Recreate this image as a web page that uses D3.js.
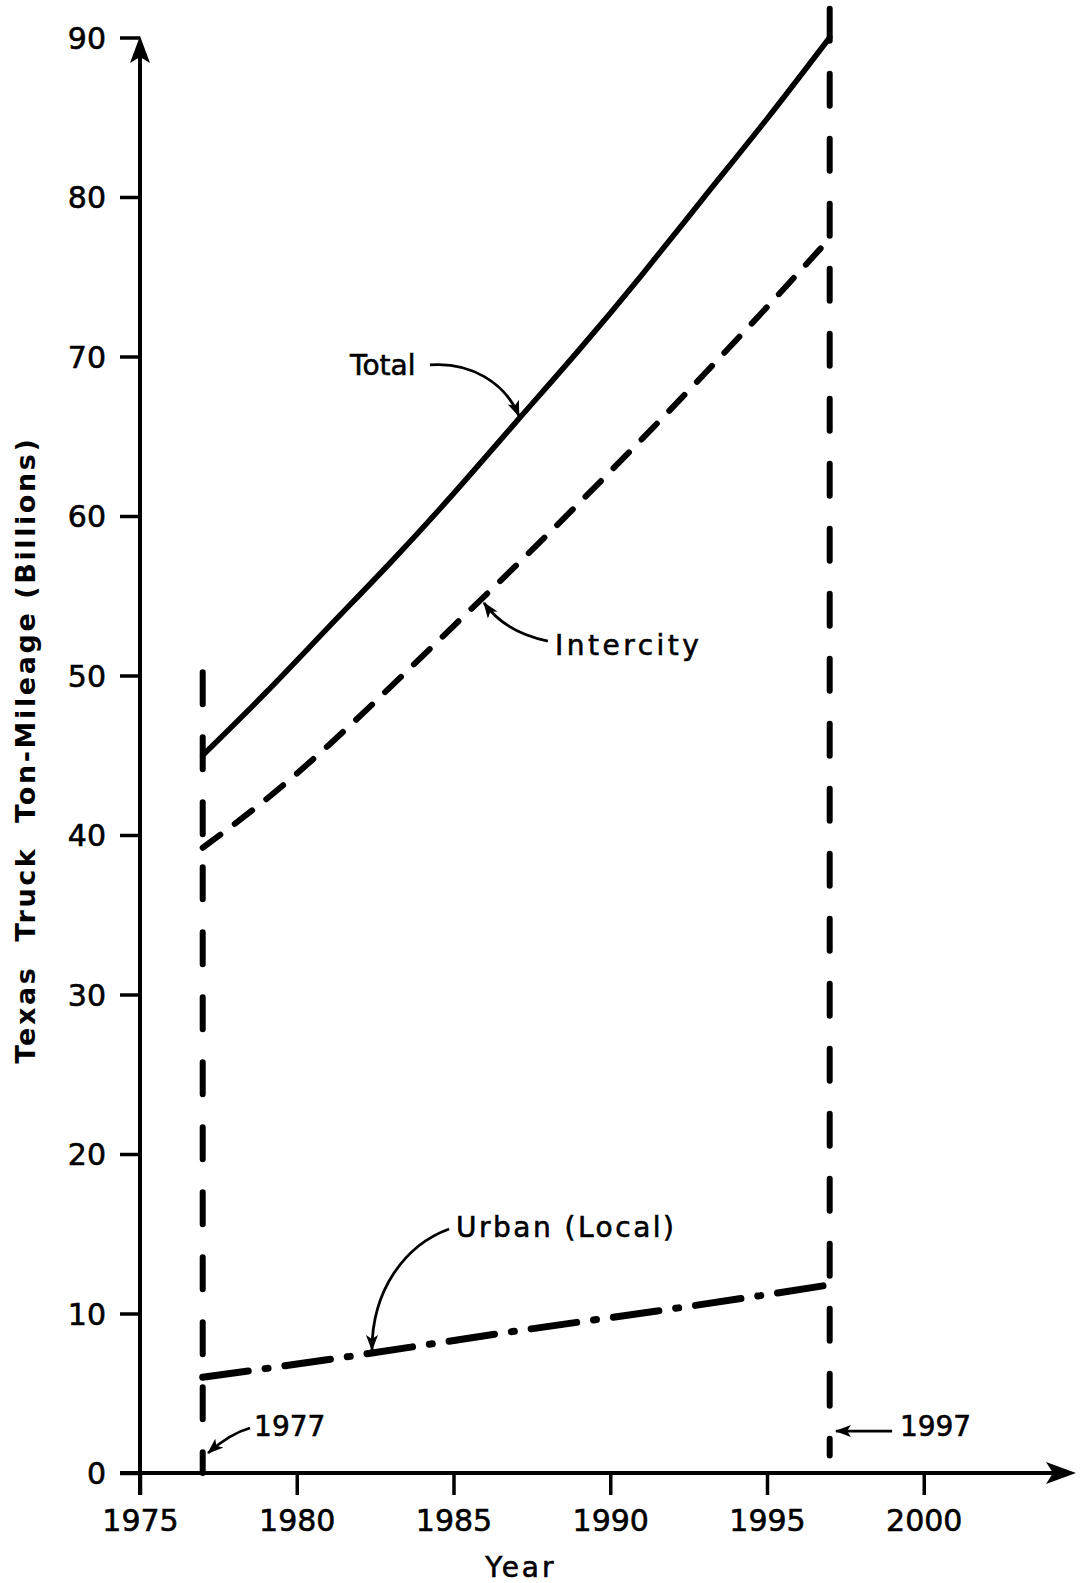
<!DOCTYPE html>
<html>
<head>
<meta charset="utf-8">
<script src="https://cdn.jsdelivr.net/npm/d3@7"></script>
<style>
  html, body { margin: 0; padding: 0; background: #fff; }
  svg { display: block; }
  text { font-family: "DejaVu Sans", sans-serif; fill: #000; }
</style>
</head>
<body>
<script>
// ---------------- data ----------------
const totalYears      = [1977, 1979, 1981, 1983, 1985, 1987, 1989, 1991, 1993, 1995, 1997];
const totalValues     = [45.0, 48.9, 53.0, 57.1, 61.4, 65.9, 70.4, 75.1, 80.0, 84.9, 90.0];
const intercityYears  = [1977, 1979, 1981, 1983, 1985, 1987, 1989, 1991, 1993, 1995, 1997];
const intercityValues = [39.2, 42.2, 45.6, 49.3, 53.1, 56.9, 60.8, 64.8, 68.9, 73.1, 77.4];
const urbanYears      = [1977, 1982, 1987, 1992, 1997];
const urbanValues     = [6.0, 7.4, 8.9, 10.3, 11.8];
const xTickValues     = [1975, 1980, 1985, 1990, 1995, 2000];
const yTickValues     = [0, 10, 20, 30, 40, 50, 60, 70, 80, 90];
const markerYears     = [1977, 1997];
const markerTops      = [50.2, 91.8];
const markerBottoms   = [0, 1.1];
const seriesLabels    = ["Total", "Intercity", "Urban (Local)"];
const yTitle          = "Texas  Truck  Ton-Mileage (Billions)";
const xTitle          = "Year";

// ---------------- layout ----------------
const W = 1091, H = 1583;
const svg = d3.select("body").append("svg").attr("width", W).attr("height", H);
svg.append("rect").attr("width", W).attr("height", H).attr("fill", "#fff");

const x = d3.scaleLinear().domain([1975, 2000]).range([140, 923.75]);
const y = d3.scaleLinear().domain([0, 90]).range([1473, 37.5]);

const defs = svg.append("defs");
defs.append("marker").attr("id", "ah")
  .attr("viewBox", "0 0 16 12").attr("refX", 15).attr("refY", 6)
  .attr("markerWidth", 16).attr("markerHeight", 12)
  .attr("markerUnits", "userSpaceOnUse").attr("orient", "auto")
  .append("path").attr("d", "M0,0 L16,6 L0,12 L4,6 Z").attr("fill", "#000");

const textStroke = 0.6;

// ---------------- axes ----------------
const xAxis = d3.axisBottom(x).tickValues(xTickValues).tickSize(22).tickFormat(d3.format("d"));
const gx = svg.append("g").attr("transform", `translate(0,${y(0)})`).call(xAxis);
gx.select(".domain").remove();
gx.selectAll(".tick line").attr("stroke", "#000").attr("stroke-width", 3.5);
gx.selectAll(".tick text").attr("font-size", 30).attr("dy", 0).attr("y", 58)
  .attr("stroke", "#000").attr("stroke-width", textStroke);

const yAxis = d3.axisLeft(y).tickValues(yTickValues).tickSize(20).tickPadding(14);
const gy = svg.append("g").attr("transform", `translate(${x(1975)},0)`).call(yAxis);
gy.select(".domain").remove();
gy.selectAll(".tick line").attr("stroke", "#000").attr("stroke-width", 3.5);
gy.selectAll(".tick text").attr("font-size", 30).attr("dy", "0.36em")
  .attr("stroke", "#000").attr("stroke-width", textStroke);

// axis lines with arrows
const xEnd = 1076, yTop = 36;
svg.append("line").attr("x1", x(1975) - 20).attr("x2", xEnd - 10)
  .attr("y1", y(0)).attr("y2", y(0)).attr("stroke", "#000").attr("stroke-width", 4);
svg.append("line").attr("x1", x(1975)).attr("x2", x(1975))
  .attr("y1", y(0) + 22).attr("y2", yTop + 10).attr("stroke", "#000").attr("stroke-width", 4);
svg.append("path")
  .attr("d", `M${xEnd},${y(0)} L${xEnd - 30},${y(0) - 11} L${xEnd - 23},${y(0)} L${xEnd - 30},${y(0) + 11} Z`)
  .attr("fill", "#000");
svg.append("path")
  .attr("d", `M${x(1975)},${yTop} L${x(1975) - 10},${yTop + 27} L${x(1975)},${yTop + 21} L${x(1975) + 10},${yTop + 27} Z`)
  .attr("fill", "#000");

// axis titles
svg.append("text").attr("x", x(1987.15)).attr("y", 1577)
  .attr("text-anchor", "middle").attr("font-size", 28).attr("letter-spacing", 3)
  .attr("stroke", "#000").attr("stroke-width", textStroke)
  .text(xTitle);
svg.append("text")
  .attr("transform", `translate(35,${750}) rotate(-90)`)
  .attr("text-anchor", "middle").attr("font-size", 27).attr("font-weight", "bold")
  .attr("letter-spacing", 2.6).style("white-space", "pre")
  .text(yTitle);

// ---------------- vertical year markers ----------------
markerYears.forEach((yr, i) => {
  svg.append("line")
    .attr("x1", x(yr)).attr("x2", x(yr))
    .attr("y1", y(markerTops[i])).attr("y2", y(markerBottoms[i]))
    .attr("stroke", "#000").attr("stroke-width", 6)
    .attr("stroke-linecap", "round").attr("stroke-dasharray", "32,33");
});

// ---------------- series lines ----------------
const line = d3.line().x(d => x(d[0])).y(d => y(d[1])).curve(d3.curveNatural);

svg.append("path").datum(totalYears.map((d, i) => [d, totalValues[i]]))
  .attr("d", line).attr("fill", "none").attr("stroke", "#000")
  .attr("stroke-width", 5.5).attr("stroke-linecap", "round");

svg.append("path").datum(intercityYears.map((d, i) => [d, intercityValues[i]]))
  .attr("d", line).attr("fill", "none").attr("stroke", "#000")
  .attr("stroke-width", 6).attr("stroke-linecap", "round")
  .attr("stroke-dasharray", "22,18");

svg.append("path").datum(urbanYears.map((d, i) => [d, urbanValues[i]]))
  .attr("d", line).attr("fill", "none").attr("stroke", "#000")
  .attr("stroke-width", 7).attr("stroke-linecap", "round")
  .attr("stroke-dasharray", "46,17,3,17");

// ---------------- annotations (positions in data units) ----------------
function P(yr, v) { return [x(yr), y(v)]; }
function curvePath(pts) {
  const [a, b, c, d] = pts.map(p => P(p[0], p[1]));
  return `M${a[0]},${a[1]} C${b[0]},${b[1]} ${c[0]},${c[1]} ${d[0]},${d[1]}`;
}
function arrow(pts) {
  svg.append("path").attr("d", curvePath(pts)).attr("fill", "none")
    .attr("stroke", "#000").attr("stroke-width", 2.8).attr("marker-end", "url(#ah)");
}
function label(txt, yr, v, ls) {
  svg.append("text").attr("x", x(yr)).attr("y", y(v))
    .attr("font-size", 28).attr("letter-spacing", ls)
    .attr("stroke", "#000").attr("stroke-width", textStroke).text(txt);
}

label(seriesLabels[0], 1981.70, 68.84, 0);
arrow([[1984.25, 69.47], [1985.53, 69.66], [1986.64, 68.40], [1987.09, 66.27]]);

label(seriesLabels[1], 1988.24, 51.29, 3.5);
arrow([[1988.01, 52.16], [1987.18, 52.48], [1986.48, 53.17], [1985.97, 54.55]]);

label(seriesLabels[2], 1985.08, 14.80, 2.5);
arrow([[1984.86, 15.30], [1983.45, 14.29], [1982.40, 11.47], [1982.40, 7.71]]);

label("1977", 1978.64, 2.32, 0);
arrow([[1978.51, 2.82], [1978.1, 2.6], [1977.6, 2.0], [1977.17, 1.25]]);

label("1997", 1999.24, 2.32, 0);
arrow([[1998.99, 2.63], [1998.4, 2.63], [1997.8, 2.63], [1997.2, 2.63]]);
</script>
</body>
</html>
